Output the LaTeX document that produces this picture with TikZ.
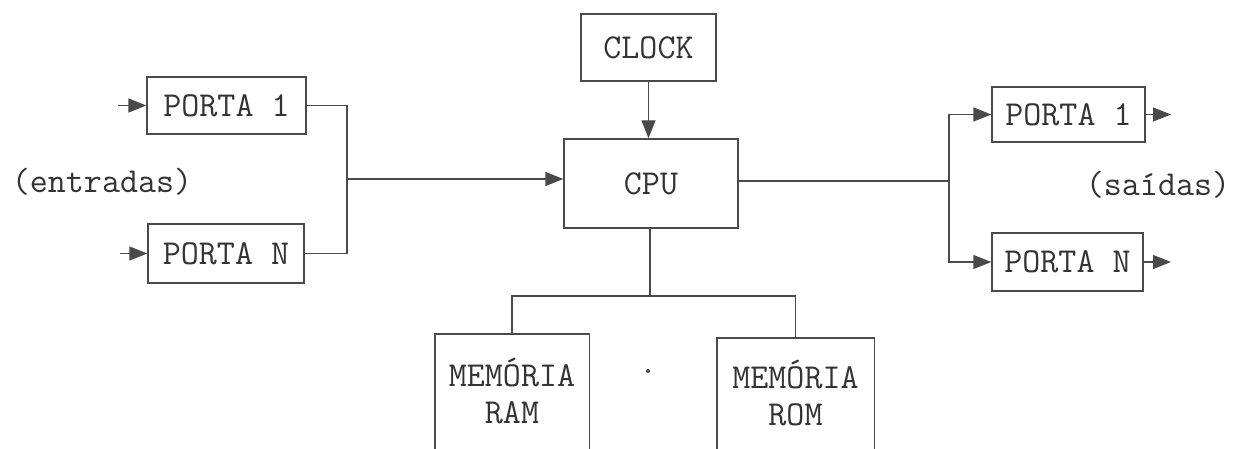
\documentclass[tikz,border=0pt]{standalone}
\usepackage{fontspec}
\usetikzlibrary{arrows.meta}
\definecolor{ink}{HTML}{4A4A4A}
\definecolor{txt}{HTML}{333333}
\tikzset{
  txtfont/.style={font=\ttfamily\fontsize{35}{37}\selectfont},
  blockbox/.style={draw=ink, line width=1.4pt, inner sep=0pt, text=txt, txtfont},
  openbox/.style={inner sep=0pt, text=txt, align=center, txtfont},
  label/.style={inner sep=0pt, text=txt, txtfont},
  wire/.style={draw=ink, line width=1.4pt},
  arrowwire/.style={wire, -{Triangle[length=18pt,width=14pt]}}
}
\begin{document}
\begin{tikzpicture}[x=1pt,y=-1pt]
\fill[white] (0,0) rectangle (1237,449);
\useasboundingbox (0,0) rectangle (1237,449);

% left input ports
\node[blockbox, minimum width=159pt, minimum height=57pt] (lp1) at (226.5,105.5) {PORTA 1};
\node[blockbox, minimum width=156pt, minimum height=59pt] (lpN) at (226,253.5) {PORTA N};
\node[label] (ent) at (102,182) {(entradas)};

% clock and cpu
\node[blockbox, minimum width=135pt, minimum height=67pt] (clock) at (648.5,47.5) {CLOCK};
\node[blockbox, minimum width=174pt, minimum height=89pt] (cpu) at (651,183.5) {CPU};

% right output ports
\node[blockbox, minimum width=153pt, minimum height=55pt] (rp1) at (1068.5,114.5) {PORTA 1};
\node[blockbox, minimum width=151pt, minimum height=58pt] (rpN) at (1067.5,262) {PORTA N};
\node[label] (sai) at (1158,185) {(saídas)};

% memories (open at the bottom)
\node[openbox, minimum width=154pt, minimum height=115pt] (ram) at (512,391.5) {MEMÓRIA\\RAM};
\node[openbox, minimum width=157pt, minimum height=111pt] (rom) at (795.5,393.5) {MEMÓRIA\\ROM};
\draw[wire] (ram.south west) -- (ram.north west) -- (ram.north east) -- (ram.south east);
\draw[wire] (rom.south west) -- (rom.north west) -- (rom.north east) -- (rom.south east);

% free-end coordinates
\coordinate (in1) at (118,105.5);
\coordinate (inN) at (120,253.5);
\coordinate (out1) at (1171,114.5);
\coordinate (outN) at (1171,262);
\coordinate (lj) at (347,179);
\coordinate (rj) at (949,181);
\coordinate (mj) at (650,296);

% input arrows
\draw[arrowwire] (in1) -- (lp1.west);
\draw[arrowwire] (inN) -- (lpN.west);

% left bus to cpu
\draw[wire] (lp1.east) -| (lj) |- (lpN.east);
\draw[arrowwire] (lj) -- (lj -| cpu.west);

% clock to cpu
\draw[arrowwire] (clock.south) -- (clock.south |- cpu.north);

% cpu to right bus
\draw[wire] (cpu.east |- rj) -- (rj);
\draw[arrowwire] (rj) |- (rp1.west);
\draw[arrowwire] (rj) |- (rpN.west);

% output arrows
\draw[arrowwire] (rp1.east) -- (out1);
\draw[arrowwire] (rpN.east) -- (outN);

% cpu to memories
\draw[wire] (cpu.south -| mj) -- (mj);
\draw[wire] (ram.north) -- (ram.north |- mj) -- (rom.north |- mj) -- (rom.north);

% small dot
\fill[ink] (648,371) circle (2pt);
\end{tikzpicture}
\end{document}
